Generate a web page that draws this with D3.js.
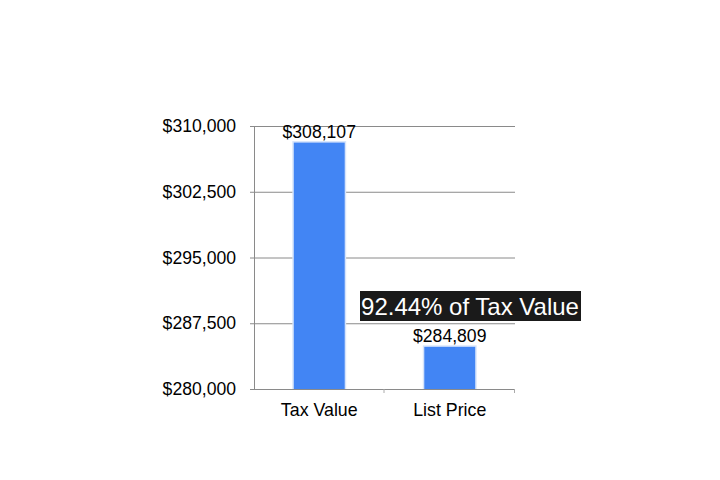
<!DOCTYPE html>
<html><head><meta charset="utf-8">
<script src="https://cdn.jsdelivr.net/npm/d3@7"></script>
<style>body{margin:0;background:#fff;} svg{display:block;} text{font-family:"Liberation Sans",Arial,sans-serif;}</style>
</head><body>
<svg id="c" width="720" height="480"></svg>
<script>
const categories = ["Tax Value", "List Price"];
const values = [308107, 284809];
const yTicks = [280000, 287500, 295000, 302500, 310000];
const annotation = "92.44% of Tax Value";

(function () {
const svg = d3.select("#c");
const pLeft = 254, pRight = 515, pTop = 126, pBottom = 389;
const x = d3.scaleBand().domain(categories).range([pLeft, pRight]).paddingInner(0.61).paddingOuter(0.305);
const y = d3.scaleLinear().domain([280000, 310000]).range([pBottom, pTop]);
const fmt = d3.format("$,");

// gridlines
svg.append("g").selectAll("line").data(yTicks).join("line")
  .attr("x1", pLeft - 4).attr("x2", pRight)
  .attr("y1", d => y(d) + 0.5).attr("y2", d => y(d) + 0.5)
  .attr("stroke", "#8a8a8a").attr("stroke-width", 1);
// vertical axis line
svg.append("line").attr("x1", pLeft + 0.5).attr("x2", pLeft + 0.5)
  .attr("y1", pTop).attr("y2", pBottom + 1).attr("stroke", "#8a8a8a");
// x ticks
svg.append("g").selectAll("line").data([pLeft + (pRight - pLeft) / 2, pRight]).join("line")
  .attr("x1", d => d - 0.5).attr("x2", d => d - 0.5)
  .attr("y1", pBottom).attr("y2", pBottom + 4).attr("stroke", "#aaa");

// y labels
svg.append("g").selectAll("text").data(yTicks).join("text")
  .attr("x", 236).attr("y", d => y(d) + 6)
  .attr("text-anchor", "end").attr("font-size", 17.6).attr("fill", "#000")
  .text(d => fmt(d));

// bars glow
svg.append("g").selectAll("rect").data(values).join("rect")
  .attr("x", (d, i) => x(categories[i]) - 1.5).attr("y", d => y(d) - 1.5)
  .attr("width", x.bandwidth() + 3).attr("height", d => pBottom - y(d) + 1.5)
  .attr("fill", "#d6e4fb");
svg.append("g").selectAll("rect").data(values).join("rect")
  .attr("x", (d, i) => x(categories[i])).attr("y", d => y(d))
  .attr("width", x.bandwidth()).attr("height", d => pBottom - y(d))
  .attr("fill", "#4285f4");

// value labels
svg.append("g").selectAll("text").data(values).join("text")
  .attr("x", (d, i) => x(categories[i]) + x.bandwidth() / 2).attr("y", d => y(d) - 5)
  .attr("text-anchor", "middle").attr("font-size", 17.6).attr("fill", "#000")
  .text(d => fmt(d));

// category labels
svg.append("g").selectAll("text").data(categories).join("text")
  .attr("x", d => x(d) + x.bandwidth() / 2).attr("y", 416)
  .attr("text-anchor", "middle").attr("font-size", 17.8).attr("fill", "#000")
  .text(d => d);

// annotation
const ax = 360, ay = 291;
svg.append("rect").attr("x", ax).attr("y", ay).attr("width", 221).attr("height", 30).attr("fill", "#1a1a1a");
svg.append("text").attr("x", ax + 110).attr("y", ay + 23.5).attr("text-anchor", "middle")
  .attr("font-size", 24).attr("fill", "#fff").text(annotation);
})();
</script>
</body></html>
